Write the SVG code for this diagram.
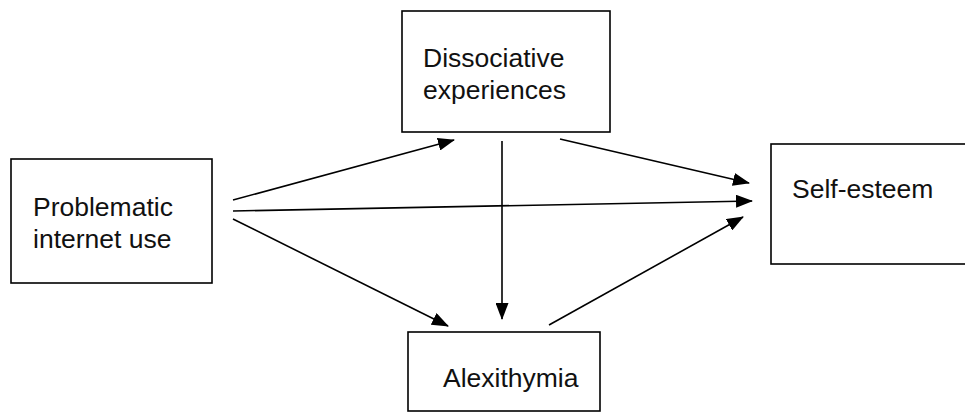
<svg xmlns="http://www.w3.org/2000/svg" width="965" height="412" viewBox="0 0 965 412">
<style>
.box{fill:#fff;stroke:#000;stroke-width:1.6}
.lbl{font-family:"Liberation Sans",Arial,sans-serif;font-size:26.5px;fill:#111}
.con{stroke:#000;stroke-width:1.6;fill:none;marker-end:url(#ah)}
</style>
<defs>
<marker id="ah" viewBox="0 0 17 13" refX="16" refY="6.5" markerWidth="17" markerHeight="13" markerUnits="userSpaceOnUse" orient="auto">
<path d="M0,0 L17,6.5 L0,13 Z" fill="#000"/>
</marker>
</defs>
<rect width="965" height="412" fill="#fff"/>
<g id="node-piu">
<rect class="box" x="11" y="159" width="201" height="124"/>
<text class="lbl" x="33" y="216">Problematic</text>
<text class="lbl" x="33" y="248">internet use</text>
</g>
<g id="node-dissociative">
<rect class="box" x="402" y="11" width="208" height="121"/>
<text class="lbl" x="423" y="67">Dissociative</text>
<text class="lbl" x="423" y="99">experiences</text>
</g>
<g id="node-alexithymia">
<rect class="box" x="408" y="332" width="192" height="79"/>
<text class="lbl" x="443" y="387">Alexithymia</text>
</g>
<g id="node-selfesteem">
<rect class="box" x="771" y="144" width="200" height="120"/>
<text class="lbl" x="792" y="198">Self-esteem</text>
</g>
<g id="connectors">
<line class="con" x1="233" y1="200" x2="454" y2="140"/>
<line class="con" x1="233" y1="211" x2="752" y2="201"/>
<line class="con" x1="233" y1="219" x2="448" y2="326"/>
<line class="con" x1="560" y1="139" x2="749" y2="183"/>
<line class="con" x1="502" y1="141" x2="502" y2="319"/>
<line class="con" x1="549" y1="325" x2="743" y2="217"/>
</g>
</svg>
